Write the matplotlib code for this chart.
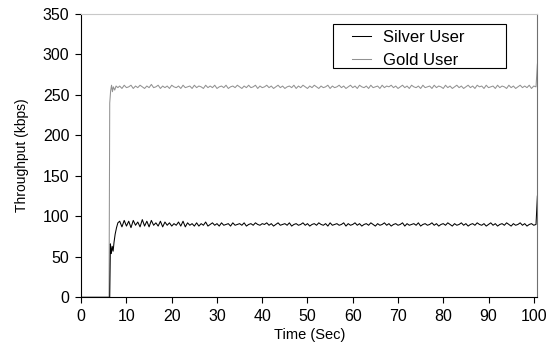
import numpy as np
import matplotlib
matplotlib.use('Agg')
import matplotlib.pyplot as plt
from matplotlib.patches import Rectangle

plt.rcParams['font.family'] = ['Liberation Sans', 'DejaVu Sans']

# start-up part of each trace (seconds, kbps)
silverStartT = [0, 6.3, 6.45, 6.65, 6.85, 7.05, 7.25, 7.5, 7.8, 8.1]
silverStartV = [0, 0, 66, 54, 63, 57, 68, 78, 86, 92]
goldStartT = [0, 6.15, 6.3, 6.5, 6.7, 6.9, 7.1, 7.4, 7.7, 8.1]
goldStartV = [0, 0, 240, 255, 262, 254, 260, 256, 261, 259]

# steady part, sampled every 0.5 s from 8.5 s to 100.5 s
steadyT = np.arange(8.5, 100.51, 0.5)
silverSteady = [
    94, 87, 95, 88, 94, 86, 95, 89, 93, 87, 96, 88, 94, 87, 95, 89, 92, 88, 94, 87,
    93, 89, 92, 88, 91, 89, 93, 88, 94, 87, 92, 89, 91, 88,
    92, 88, 91, 89, 93, 88, 90, 92, 89, 91, 88, 92, 89, 90, 91, 88, 92, 89, 90, 91,
    89, 92, 88, 90, 91, 89, 92, 90, 89, 91,
    90, 92, 89, 91, 88, 90, 92, 89, 90, 91, 89, 92, 88, 90, 91, 89, 90, 92, 89, 91,
    88, 90, 91, 89, 92, 90, 89, 91, 88, 92, 89, 90, 91, 89, 90, 92, 88, 91, 89, 90,
    92, 89, 91, 88, 90, 91, 89, 92, 90, 88, 91, 89, 90, 92, 89, 91, 88, 90, 91, 89,
    90, 92, 88, 91, 89, 90, 91, 89, 92, 88, 90, 91, 89, 90, 92, 89, 91, 88, 90, 91,
    89, 92, 90, 88, 91, 89, 90, 92, 89, 91, 88, 90, 91, 89, 92, 90, 89, 91, 88, 90,
    92, 89, 91, 88, 90, 91, 89, 92, 90, 88, 91, 89, 90, 92, 89, 91, 88, 90, 91, 89, 90]
goldSteady = [
    261, 258, 262, 259, 260, 262, 258, 261, 259, 262, 260, 258, 261, 259, 263, 259, 260, 262, 258, 261,
    259, 261, 258, 262, 260, 259, 261, 258, 262, 259, 260, 261, 258, 262, 259, 261, 260, 258, 262, 259,
    261, 259, 262, 258, 260, 261, 259, 262, 258, 260, 261, 259, 262, 260, 258, 261, 259, 262, 259, 260,
    262, 258, 261, 259, 260, 262, 259, 261, 258, 260, 262, 259, 261, 258, 260, 261, 259, 262, 258, 261,
    259, 262, 260, 258, 261, 259, 262, 260, 258, 261, 259, 260, 262, 258, 261, 259, 260, 262, 259, 261,
    258, 260, 262, 259, 261, 258, 262, 260, 259, 261, 258, 262, 259, 260, 261, 258, 262, 259, 261, 260,
    262, 259, 261, 258, 260, 262, 259, 261, 258, 262, 260, 259, 261, 258, 262, 259, 260, 261, 258, 262,
    259, 261, 260, 258, 262, 259, 261, 258, 260, 262, 259, 261, 258, 260, 262, 259, 261, 258, 262, 260,
    261, 258, 262, 259, 260, 261, 258, 262, 259, 261, 260, 258, 262, 259, 261, 258, 260, 262, 259, 261,
    259, 262, 258, 261, 260]

# final spike at the end of the run
endT = [100.8]
silverEndV = [125]
goldEndV = [288]

silverT = np.concatenate([silverStartT, steadyT, endT])
silverV = np.concatenate([silverStartV, silverSteady, silverEndV])
goldT = np.concatenate([goldStartT, steadyT, endT])
goldV = np.concatenate([goldStartV, goldSteady, goldEndV])

fig = plt.figure(figsize=(5.54, 3.47), dpi=100)
ax = fig.add_axes([0.1466, 0.1432, 0.8234, 0.8165])

gLine, = ax.plot(goldT, goldV, color='#929292', linewidth=0.75)
sLine, = ax.plot(silverT, silverV, color='black', linewidth=0.75)

ax.set_xlim(0, 100.8)
ax.set_ylim(0, 350)
ax.set_xticks(range(0, 101, 10))
ax.set_yticks(range(0, 351, 50))
ax.tick_params(labelsize=11.5, length=4, width=0.8, direction='out', pad=4.5)
ax.set_xlabel('Time (Sec)', fontsize=10.5, labelpad=3)
ax.set_ylabel('Throughput (kbps)', fontsize=10, labelpad=10)

ax.spines['top'].set_color('#c8c8c8')
ax.spines['right'].set_color('#707070')

# legend entries without frame, plain square box drawn around them
leg = ax.legend([sLine, gLine], ['Silver User', 'Gold User'], loc='upper left',
                bbox_to_anchor=(0.594, 0.943), fontsize=12, frameon=False,
                handlelength=1.1, handletextpad=0.75, borderpad=0,
                labelspacing=0.45, borderaxespad=0)
ax.add_patch(Rectangle((0.552, 0.81), 0.379, 0.155, transform=ax.transAxes,
                       fill=False, edgecolor='black', linewidth=0.8, zorder=5))

fig.savefig('out.png', dpi=100)
